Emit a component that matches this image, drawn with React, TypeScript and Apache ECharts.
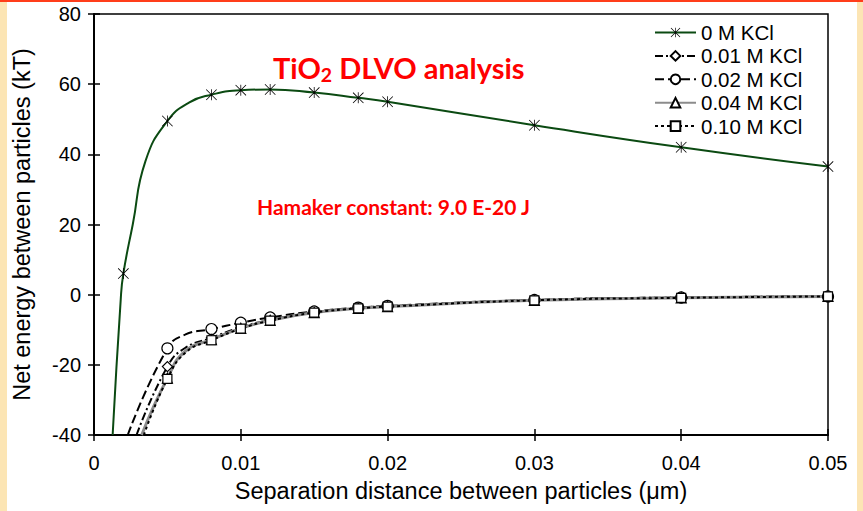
import React, { useEffect, useRef } from "react";
import * as echarts from "echarts";

// Legend names
const seriesNames = ["0 M KCl", "0.01 M KCl", "0.02 M KCl", "0.04 M KCl", "0.10 M KCl"];

// Separation distances (µm) where markers are drawn
const noSaltDistances = [0.002, 0.005, 0.008, 0.01, 0.012, 0.015, 0.018, 0.02, 0.03, 0.04, 0.05];
const saltDistances = [0.005, 0.008, 0.01, 0.012, 0.015, 0.018, 0.02, 0.03, 0.04, 0.05];

// Net interaction energy (kT) at the marker distances
const energy0M = [6, 49.5, 57, 58.3, 58.5, 57.6, 56.1, 55, 48.3, 42, 36.5];
const energy001M = [-20.5, -12.3, -9.3, -7.2, -5.0, -3.8, -3.3, -1.5, -0.8, -0.5];
const energy002M = [-15.3, -9.8, -8.0, -6.5, -4.8, -3.7, -3.2, -1.5, -0.8, -0.5];
const energy004M = [-23.8, -12.8, -9.6, -7.3, -5.1, -3.9, -3.4, -1.6, -0.9, -0.5];
const energy010M = [-24.0, -13.0, -9.7, -7.4, -5.1, -3.9, -3.4, -1.6, -0.9, -0.5];

// Extra curve points without markers (steep short-range part of each curve)
const curve0M: [number, number][] = [[0.00127, -40], [0.00182, -1.4], [0.00264, 20], [0.0035, 38], [0.0065, 54.8]];
const curve001M: [number, number][] = [[0.0029, -40], [0.0062, -15.2]];
const curve002M: [number, number][] = [[0.0023, -40], [0.0062, -11.4]];
const curve004M: [number, number][] = [[0.00325, -40], [0.0062, -16.2]];
const curve010M: [number, number][] = [[0.0034, -40], [0.0063, -16.3]];

// Axis ranges and tick steps
const xRange = [0, 0.05];
const xStep = 0.01;
const yRange = [-40, 80];
const yStep = 20;

const ASTERISK =
  "path://M9.3 0H10.7V20H9.3Z M0 1L1 0L20 19L19 20Z M19 0L20 1L1 20L0 19Z";

function buildData(xs: number[], ys: number[], extra: [number, number][]) {
  const pts: { value: [number, number]; symbol?: string }[] = [];
  xs.forEach((x, i) => pts.push({ value: [x, ys[i]] }));
  extra.forEach(([x, y]) => pts.push({ value: [x, y], symbol: "none" }));
  pts.sort((a, b) => a.value[0] - b.value[0]);
  return pts;
}

const FONT = "Liberation Sans, Arial, sans-serif";

export default function App() {
  const ref = useRef<HTMLDivElement>(null);

  useEffect(() => {
    if (!ref.current) return;
    const chart = echarts.init(ref.current, undefined, { renderer: "svg" });

    const saltSeries = (
      name: string,
      ys: number[],
      extra: [number, number][],
      symbol: string,
      symbolSize: number,
      lineColor: string,
      lineWidth: number,
      dash: number[] | "solid"
    ) => ({
      name,
      type: "line",
      data: buildData(saltDistances, ys, extra),
      smooth: 0.5,
      showAllSymbol: true,
      symbol,
      symbolSize,
      lineStyle: { color: lineColor, width: lineWidth, type: dash },
      itemStyle: { color: "#ffffff", borderColor: "#000000", borderWidth: 1.2 },
      emphasis: { disabled: true },
      clip: true,
    });

    chart.setOption({
      animation: false,
      backgroundColor: "#ffffff",
      graphic: [
        { type: "rect", shape: { x: 0, y: 0, width: 7, height: 511 }, style: { fill: "#fce5b4" }, silent: true },
        { type: "rect", shape: { x: 857, y: 0, width: 6, height: 511 }, style: { fill: "#fce5b4" }, silent: true },
        { type: "rect", shape: { x: 0, y: 0, width: 863, height: 2 }, style: { fill: "#ff3d1a" }, silent: true },
      ],
      title: [
        {
          text: "{a|TiO}{b|2}{a| DLVO analysis}",
          left: 273,
          top: 50,
          padding: 0,
          textStyle: {
            rich: {
              a: { fontFamily: "Lato", fontWeight: "bold", fontSize: 29, color: "#ff0000", lineHeight: 34, verticalAlign: "middle" },
              b: { fontFamily: "Lato", fontWeight: "bold", fontSize: 19.5, color: "#ff0000", lineHeight: 34, verticalAlign: "bottom", padding: [14, 0, 0, 0] },
            },
          },
        },
        {
          text: "Hamaker constant: 9.0 E-20 J",
          left: 257,
          top: 196,
          padding: 0,
          textStyle: { fontFamily: "Lato", fontWeight: "bold", fontSize: 21, color: "#ff0000" },
        },
      ],
      legend: {
        orient: "vertical",
        left: 654,
        top: 22,
        itemWidth: 41,
        itemHeight: 12,
        itemGap: 2.4,
        padding: 0,
        textStyle: { fontFamily: FONT, fontSize: 20.5, color: "#000", lineHeight: 20 },
        data: seriesNames,
      },
      grid: {
        left: 94,
        right: 35,
        top: 14,
        bottom: 76,
        show: true,
        borderColor: "#000",
        borderWidth: 1.5,
        backgroundColor: "transparent",
      },
      xAxis: [
        {
          type: "value",
          min: xRange[0],
          max: xRange[1],
          interval: xStep,
          position: "bottom",
          axisLine: { onZero: false, lineStyle: { color: "#000", width: 2 } },
          axisTick: { inside: false, length: 6, lineStyle: { color: "#000", width: 1.5 } },
          axisLabel: {
            color: "#000",
            fontFamily: FONT,
            fontSize: 20,
            margin: 18,
            formatter: (v: number) => (v === 0 ? "0" : String(+v.toFixed(2))),
          },
          splitLine: { show: false },
          name: "Separation distance between particles (\u03bcm)",
          nameLocation: "middle",
          nameGap: 44,
          nameTextStyle: { color: "#000", fontFamily: FONT, fontSize: 23.5 },
        },
        {
          type: "value",
          min: xRange[0],
          max: xRange[1],
          interval: xStep,
          position: "bottom",
          axisLine: { show: false, onZero: false },
          axisTick: { inside: true, length: 6, lineStyle: { color: "#000", width: 1.5 } },
          axisLabel: { show: false },
          splitLine: { show: false },
        },
      ],
      yAxis: [
        {
          type: "value",
          min: yRange[0],
          max: yRange[1],
          interval: yStep,
          position: "left",
          axisLine: { onZero: false, lineStyle: { color: "#000", width: 2 } },
          axisTick: { inside: false, length: 6, lineStyle: { color: "#000", width: 1.5 } },
          axisLabel: { color: "#000", fontFamily: FONT, fontSize: 20, margin: 13 },
          splitLine: { show: false },
          name: "Net energy between particles (kT)",
          nameLocation: "middle",
          nameGap: 60,
          nameTextStyle: { color: "#000", fontFamily: FONT, fontSize: 23.5 },
        },
        {
          type: "value",
          min: yRange[0],
          max: yRange[1],
          interval: yStep,
          position: "left",
          axisLine: { show: false, onZero: false },
          axisTick: { inside: true, length: 6, lineStyle: { color: "#000", width: 1.5 } },
          axisLabel: { show: false },
          splitLine: { show: false },
        },
      ],
      series: [
        saltSeries(seriesNames[1], energy001M, curve001M, "diamond", 10, "#000", 2, [8, 3, 2, 3]),
        saltSeries(seriesNames[2], energy002M, curve002M, "circle", 11, "#000", 2, [9, 4]),
        saltSeries(seriesNames[3], energy004M, curve004M, "triangle", 10, "#8c8c8c", 3, "solid"),
        saltSeries(seriesNames[4], energy010M, curve010M, "rect", 9, "#000", 2, [3, 3]),
        {
          name: seriesNames[0],
          type: "line",
          data: buildData(noSaltDistances, energy0M, curve0M),
          smooth: 0.5,
          showAllSymbol: true,
          symbol: ASTERISK,
          symbolSize: 11,
          lineStyle: { color: "#0b4a12", width: 2 },
          itemStyle: { color: "#000" },
          emphasis: { disabled: true },
          clip: true,
        },
      ],
    });

    return () => chart.dispose();
  }, []);

  return (
    <div
      ref={ref}
      style={{ position: "absolute", left: 0, top: 0, width: 863, height: 511 }}
    />
  );
}
